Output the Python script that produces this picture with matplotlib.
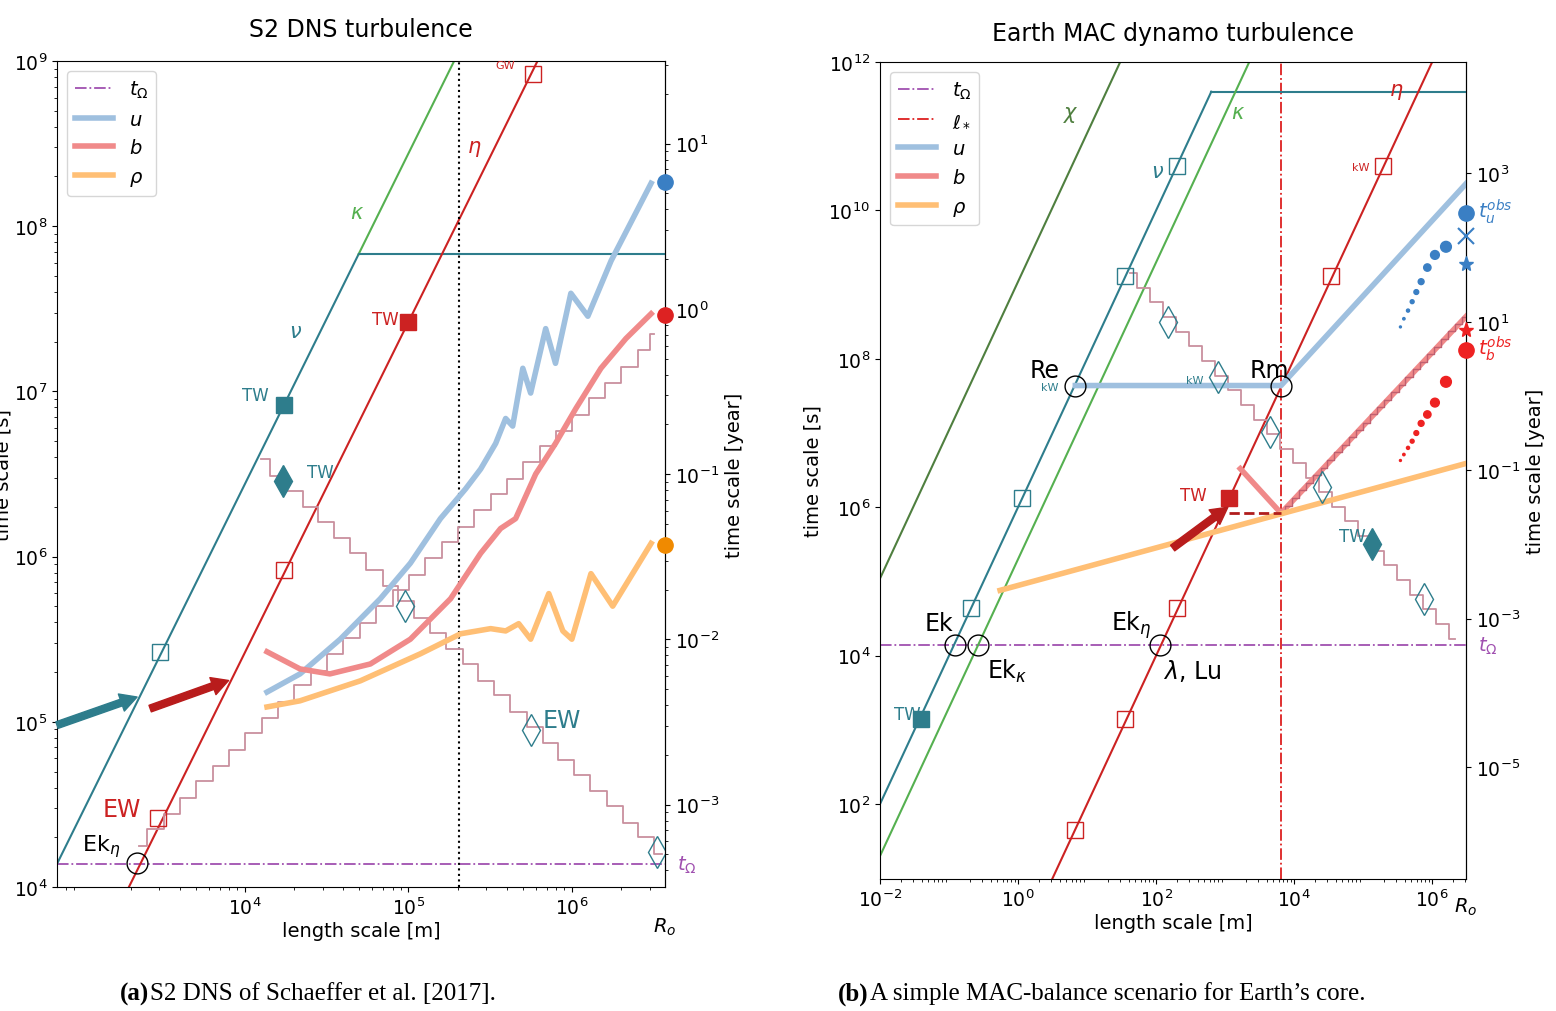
import numpy as np
import matplotlib.pyplot as plt
from matplotlib.lines import Line2D

YEAR = 3.156e7
T_OMEGA = 1.37e4

TEAL = '#2e7d8c'
DGREEN = '#4f7f3f'
GREEN = '#55b050'
RED = '#cc2222'
LBLUE = '#9fc0df'
PINK = '#f08a8a'
ORANGE = '#ffbf75'
PURPLE = '#a050b0'
STAIR = '#c9909e'
BLUE = '#3a7fc4'

# ---------- left panel data (log10 values) ----------
L_nu = 1.56          # log10 nu  [m2/s]
L_eta = 2.58         # log10 eta
L_tmax = 7.83        # saturation time of nu line
L_dotted = 2.05e5

u_x = [4.135, 4.337, 4.583, 4.828, 5.012, 5.196, 5.35, 5.442, 5.534, 5.595, 5.638, 5.70, 5.748,
       5.84, 5.90, 5.994, 6.098, 6.24, 6.36, 6.485]
u_y = [5.18, 5.29, 5.50, 5.745, 5.96, 6.23, 6.41, 6.53, 6.685, 6.836, 6.79, 7.14, 6.99,
       7.38, 7.17, 7.594, 7.455, 7.79, 8.02, 8.26]
b_x = [4.135, 4.337, 4.52, 4.767, 5.012, 5.258, 5.442, 5.564, 5.656, 5.779, 5.90, 6.025, 6.178, 6.331, 6.485]
b_y = [5.424, 5.32, 5.29, 5.35, 5.50, 5.745, 6.02, 6.17, 6.23, 6.50, 6.685, 6.897, 7.14, 7.32, 7.47]
r_x = [4.135, 4.337, 4.706, 5.074, 5.32, 5.503, 5.595, 5.675, 5.748, 5.859, 5.945, 6.0, 6.117, 6.25, 6.485]
r_y = [5.09, 5.127, 5.248, 5.412, 5.533, 5.564, 5.55, 5.594, 5.50, 5.776, 5.55, 5.50, 5.897, 5.70, 6.08]

up_x = [3.35, 3.45, 3.55, 3.65, 3.75, 3.85, 3.95, 4.05, 4.15, 4.25, 4.35, 4.45, 4.55, 4.65, 4.75, 4.85, 4.95,
        5.05, 5.15, 5.25, 5.35, 5.45, 5.55, 5.65, 5.75, 5.85, 5.95, 6.05, 6.15, 6.25, 6.35, 6.45, 6.50]
up_y = [4.25, 4.35, 4.44, 4.54, 4.64, 4.73, 4.83, 4.93, 5.02, 5.12, 5.22, 5.31, 5.41, 5.51, 5.60, 5.70, 5.80,
        5.89, 5.99, 6.09, 6.18, 6.28, 6.38, 6.47, 6.57, 6.67, 6.76, 6.86, 6.96, 7.05, 7.15, 7.25, 7.35]
dn_x = [4.10, 4.20, 4.30, 4.40, 4.49, 4.59, 4.69, 4.79, 4.89, 4.98, 5.08, 5.18, 5.28, 5.38, 5.47, 5.57, 5.67,
        5.77, 5.87, 5.96, 6.06, 6.16, 6.26, 6.36, 6.45, 6.55]
dn_y = [6.59, 6.49, 6.40, 6.30, 6.21, 6.11, 6.02, 5.92, 5.82, 5.73, 5.63, 5.54, 5.44, 5.35, 5.25, 5.16, 5.06,
        4.97, 4.87, 4.77, 4.68, 4.58, 4.49, 4.39, 4.30, 4.20]

sqL_nu = [(3.48, 5.42, False), (4.24, 6.92, True)]
sqL_eta = [(3.47, 4.42, False), (4.24, 5.92, False), (5.0, 7.42, True), (5.76, 8.92, False)]
diaL = [(4.23, 6.46, True), (4.98, 5.70, False), (5.75, 4.95, False), (6.52, 4.21, False)]
endL = [(8.27, BLUE), (7.46, '#dd2222'), (6.07, '#f08a00')]

# ---------- right panel data (log10 values) ----------
R_chi = -9.04
R_nu = -6.0
R_kappa = -5.3
R_eta = 0.0
R_tmax = 11.6
R_lstar = 6.5e3
Ru_x = [0.83, 3.81, 6.49]
Ru_y = [7.64, 7.64, 10.36]
Rb_x = [3.22, 3.81, 6.49]
Rb_y = [6.52, 5.92, 8.57]
Rr_x = [-0.26, 6.49]
Rr_y = [4.88, 6.59]
Rdn_x = [1.62, 1.81, 2.00, 2.19, 2.38, 2.56, 2.75, 2.94, 3.13, 3.32, 3.50, 3.69, 3.88, 4.07, 4.26, 4.44,
         4.63, 4.82, 5.01, 5.20, 5.38, 5.57, 5.76, 5.95, 6.14, 6.33]
Rdn_y = [9.15, 8.95, 8.76, 8.56, 8.36, 8.17, 7.97, 7.77, 7.58, 7.38, 7.18, 6.99, 6.79, 6.59, 6.40, 6.20,
         6.00, 5.81, 5.61, 5.41, 5.22, 5.02, 4.82, 4.63, 4.43, 4.23]
Rbs_x = [3.81, 3.91, 4.02, 4.12, 4.22, 4.33, 4.43, 4.53, 4.63, 4.74, 4.84, 4.94, 5.05, 5.15, 5.25, 5.35,
         5.46, 5.56, 5.66, 5.77, 5.87, 5.97, 6.07, 6.18, 6.28, 6.38, 6.49]
Rbs_y = [5.92, 6.02, 6.12, 6.23, 6.33, 6.43, 6.53, 6.63, 6.74, 6.84, 6.94, 7.04, 7.14, 7.25, 7.35, 7.45,
         7.55, 7.65, 7.76, 7.86, 7.96, 8.06, 8.16, 8.27, 8.37, 8.47, 8.57]
sqR_nu = [(-1.41, 3.14, True), (-0.68, 4.64, False), (0.06, 6.12, False), (1.55, 9.12, False), (2.30, 10.60, False)]
sqR_eta = [(0.83, 1.65, False), (1.55, 3.14, False), (2.30, 4.64, False), (3.06, 6.12, True), (4.54, 9.11, False), (5.29, 10.60, False)]
diaR = [(2.17, 8.50, False), (2.90, 7.76, False), (3.65, 7.02, False), (4.41, 6.27, False), (5.13, 5.51, True), (5.88, 4.76, False)]
circR = [(0.83, 7.64), (3.81, 7.64), (-0.91, 4.14), (-0.58, 4.14), (2.06, 4.14)]
dots_x = [5.54, 5.59, 5.65, 5.71, 5.77, 5.84, 5.93, 6.04, 6.20]
udots_y = [8.43, 8.54, 8.65, 8.77, 8.90, 9.04, 9.23, 9.40, 9.51]
bdots_y = [6.63, 6.71, 6.80, 6.89, 7.00, 7.13, 7.25, 7.41, 7.69]
dots_s = [2, 3, 5, 8, 12, 18, 28, 40, 60]


def P(a):
    return np.power(10.0, np.asarray(a, dtype=float))


plt.rcParams['font.size'] = 14
plt.rcParams['xtick.labelsize'] = 13.5
plt.rcParams['ytick.labelsize'] = 13.5
fig = plt.figure(figsize=(15.56, 10.12), dpi=100)
W, H = 1556, 1012

# ================= left =================
ax = fig.add_axes([57 / W, 1 - 888 / H, 608 / W, 826 / H])
ax.set_xscale('log'); ax.set_yscale('log')
xl0, xl1 = 2.85, 6.57
ax.set_xlim(P(xl0), P(xl1)); ax.set_ylim(1e4, 1e9)

ax.axhline(T_OMEGA, color=PURPLE, ls='-.', lw=1.3)
lk = (L_tmax + L_nu) / 2
xx = np.array([xl0, lk]); ax.plot(P(xx), P(2 * xx - L_nu), color=TEAL, lw=1.5)
xx = np.array([lk, (9 + L_nu) / 2]); ax.plot(P(xx), P(2 * xx - L_nu), color=GREEN, lw=1.5)
ax.plot([P(lk), P(xl1)], [P(L_tmax)] * 2, color=TEAL, lw=1.5)
xx = np.array([(4 + L_eta) / 2, (9 + L_eta) / 2]); ax.plot(P(xx), P(2 * xx - L_eta), color=RED, lw=1.5)
ax.axvline(L_dotted, color='k', ls=':', lw=1.5)

ax.plot(P(up_x), P(up_y), color=STAIR, lw=1.3, drawstyle='steps-mid')
ax.plot(P(dn_x), P(dn_y), color=STAIR, lw=1.3, drawstyle='steps-mid')
ax.plot(P(u_x), P(u_y), color=LBLUE, lw=4)
ax.plot(P(b_x), P(b_y), color=PINK, lw=4)
ax.plot(P(r_x), P(r_y), color=ORANGE, lw=4)

for x, y, f in sqL_nu:
    ax.plot(P(x), P(y), 's', ms=12 if f else 11, mfc=TEAL if f else 'none', mec=TEAL)
for x, y, f in sqL_eta:
    ax.plot(P(x), P(y), 's', ms=12 if f else 11, mfc=RED if f else 'none', mec=RED)
for x, y, f in diaL:
    ax.plot(P(x), P(y), 'd', ms=16, mfc=TEAL if f else 'none', mec=TEAL)
ax.plot(P(3.34), P(4.145), 'o', ms=15, mfc='none', mec='k')
for y, c in endL:
    ax.plot(P(xl1), P(y), 'o', ms=11, color=c, clip_on=False, zorder=5)

ax.annotate('', xy=(P(3.34), P(5.15)), xytext=(P(2.85), P(4.98)),
            arrowprops=dict(color=TEAL, width=5, headwidth=13, headlength=12))
ax.annotate('', xy=(P(3.90), P(5.25)), xytext=(P(3.42), P(5.08)),
            arrowprops=dict(color='#b81c1c', width=5, headwidth=13, headlength=12))

ax.text(P(4.64), P(8.05), r'$\kappa$', color=GREEN, fontsize=15)
ax.text(P(4.27), P(7.33), r'$\nu$', color=TEAL, fontsize=15)
ax.text(P(5.36), P(8.45), r'$\eta$', color=RED, fontsize=15)
ax.text(P(3.98), P(6.95), 'TW', color=TEAL, fontsize=12)
ax.text(P(4.38), P(6.48), 'TW', color=TEAL, fontsize=12)
ax.text(P(4.78), P(7.41), 'TW', color=RED, fontsize=12)
ax.text(P(5.53), P(8.96), 'GW', color=RED, fontsize=8)
ax.text(P(5.82), P(4.97), 'EW', color=TEAL, fontsize=17)
ax.text(P(3.13), P(4.43), 'EW', color=RED, fontsize=17)
ax.text(P(3.0), P(4.22), r'Ek$_\eta$', color='k', fontsize=16)

ax.set_xticks([1e4, 1e5, 1e6])
ax.text(1.0, -0.035, r'$R_o$', transform=ax.transAxes, ha='center', va='top', fontsize=14)
ax.set_xlabel('length scale [m]', labelpad=2)
ax.set_ylabel('time scale [s]', labelpad=1)
ax.set_title('S2 DNS turbulence', fontsize=17, pad=18)
sec = ax.secondary_yaxis('right', functions=(lambda s: s / YEAR, lambda y: y * YEAR))
sec.set_yticks([1e1, 1e0, 1e-1, 1e-2, 1e-3])
sec.set_ylabel('time scale [year]')
ax.text(1.02, (np.log10(T_OMEGA) - 4) / 5, r'$t_\Omega$', color=PURPLE, transform=ax.transAxes,
        va='center', fontsize=14)

hL = [Line2D([], [], color=PURPLE, ls='-.', lw=1.3), Line2D([], [], color=LBLUE, lw=4),
      Line2D([], [], color=PINK, lw=4), Line2D([], [], color=ORANGE, lw=4)]
ax.legend(hL, [r'$t_\Omega$', r'$u$', r'$b$', r'$\rho$'], loc='upper left', fontsize=14)

# ================= right =================
ax2 = fig.add_axes([880 / W, 1 - 880 / H, 586 / W, 817 / H])
ax2.set_xscale('log'); ax2.set_yscale('log')
x0, x1 = -2, 6.49
ax2.set_xlim(P(x0), P(x1)); ax2.set_ylim(P(0.99), 1e12)

ax2.axhline(T_OMEGA, color=PURPLE, ls='-.', lw=1.3)
ax2.axvline(R_lstar, color='#dd2020', ls='-.', lw=1.3)
xx = np.array([x0, (12 + R_chi) / 2]); ax2.plot(P(xx), P(2 * xx - R_chi), color=DGREEN, lw=1.5)
rk = (R_tmax + R_nu) / 2
xx = np.array([x0, rk]); ax2.plot(P(xx), P(2 * xx - R_nu), color=TEAL, lw=1.5)
ax2.plot([P(rk), P(x1)], [P(R_tmax)] * 2, color=TEAL, lw=1.5)
xx = np.array([x0, (12 + R_kappa) / 2]); ax2.plot(P(xx), P(2 * xx - R_kappa), color=GREEN, lw=1.5)
xx = np.array([(0.99 + R_eta) / 2, (12 + R_eta) / 2]); ax2.plot(P(xx), P(2 * xx - R_eta), color=RED, lw=1.5)

ax2.plot(P(Rdn_x), P(Rdn_y), color=STAIR, lw=1.3, drawstyle='steps-mid')
ax2.plot(P(Ru_x), P(Ru_y), color=LBLUE, lw=4)
ax2.plot(P(Rb_x), P(Rb_y), color=PINK, lw=4)
ax2.plot(P(Rbs_x), P(Rbs_y), color='#c06070', lw=1, drawstyle='steps-mid')
ax2.plot(P(Rr_x), P(Rr_y), color=ORANGE, lw=4)
ax2.plot([P(3.06), P(3.81)], [P(5.92)] * 2, color='#b01c1c', ls='--', lw=2)
ax2.annotate('', xy=(P(3.04), P(6.0)), xytext=(P(2.24), P(5.45)),
             arrowprops=dict(color='#b81c1c', width=5, headwidth=13, headlength=12))

for x, y, f in sqR_nu:
    ax2.plot(P(x), P(y), 's', ms=12 if f else 11, mfc=TEAL if f else 'none', mec=TEAL)
for x, y, f in sqR_eta:
    ax2.plot(P(x), P(y), 's', ms=12 if f else 11, mfc=RED if f else 'none', mec=RED)
for x, y, f in diaR:
    ax2.plot(P(x), P(y), 'd', ms=16, mfc=TEAL if f else 'none', mec=TEAL)
for x, y in circR:
    ax2.plot(P(x), P(y), 'o', ms=15, mfc='none', mec='k')
ax2.scatter(P(dots_x), P(udots_y), s=dots_s, color=BLUE, zorder=5)
ax2.scatter(P(dots_x), P(bdots_y), s=dots_s, color='#ee2222', zorder=5)
ax2.plot(P(x1), P(9.97), 'o', ms=11, color=BLUE, clip_on=False, zorder=6)
ax2.plot(P(x1), P(9.66), 'x', ms=12, mew=1.5, color=BLUE, clip_on=False, zorder=6)
ax2.plot(P(x1), P(9.28), '*', ms=11, color=BLUE, clip_on=False, zorder=6)
ax2.plot(P(x1), P(8.39), '*', ms=11, color='#ee2222', clip_on=False, zorder=6)
ax2.plot(P(x1), P(8.12), 'o', ms=11, color='#ee2222', clip_on=False, zorder=6)

ax2.text(P(0.65), P(11.25), r'$\chi$', color=DGREEN, fontsize=15)
ax2.text(P(1.93), P(10.45), r'$\nu$', color=TEAL, fontsize=15)
ax2.text(P(3.08), P(11.25), r'$\kappa$', color=GREEN, fontsize=15)
ax2.text(P(5.38), P(11.55), r'$\eta$', color=RED, fontsize=15)
ax2.text(P(0.17), P(7.76), 'Re', fontsize=17)
ax2.text(P(0.33), P(7.58), 'kW', color=TEAL, fontsize=8)
ax2.text(P(3.36), P(7.76), 'Rm', fontsize=17)
ax2.text(P(2.44), P(7.67), 'kW', color=TEAL, fontsize=8)
ax2.text(P(4.84), P(10.55), 'kW', color=RED, fontsize=8)
ax2.text(P(-1.35), P(4.35), 'Ek', fontsize=17)
ax2.text(P(-0.45), P(3.7), r'Ek$_\kappa$', fontsize=17)
ax2.text(P(1.35), P(4.35), r'Ek$_\eta$', fontsize=17)
ax2.text(P(2.1), P(3.7), r'$\lambda$, Lu', fontsize=17)
ax2.text(P(-1.8), P(3.15), 'TW', color=TEAL, fontsize=12)
ax2.text(P(2.35), P(6.1), 'TW', color=RED, fontsize=12)
ax2.text(P(4.65), P(5.55), 'TW', color=TEAL, fontsize=12)

ax2.set_xticks(P([-2, 0, 2, 4, 6]))
ax2.text(1.0, -0.02, r'$R_o$', transform=ax2.transAxes, ha='center', va='top', fontsize=14)
ax2.set_xlabel('length scale [m]', labelpad=2)
ax2.set_ylabel('time scale [s]')
ax2.set_title('Earth MAC dynamo turbulence', fontsize=17, pad=16)
sec2 = ax2.secondary_yaxis('right', functions=(lambda s: s / YEAR, lambda y: y * YEAR))
sec2.set_yticks([1e3, 1e1, 1e-1, 1e-3, 1e-5])
sec2.set_ylabel('time scale [year]')
yr = lambda v: (v - 0.99) / (12 - 0.99)
ax2.text(1.02, yr(np.log10(T_OMEGA)), r'$t_\Omega$', color=PURPLE, transform=ax2.transAxes, va='center', fontsize=14)
ax2.text(1.02, yr(10.0), r'$t_u^{obs}$', color=BLUE, transform=ax2.transAxes, va='center', fontsize=14)
ax2.text(1.02, yr(8.15), r'$t_b^{obs}$', color='#ee2222', transform=ax2.transAxes, va='center', fontsize=14)

hR = [Line2D([], [], color=PURPLE, ls='-.', lw=1.3), Line2D([], [], color='#dd2020', ls='-.', lw=1.3),
      Line2D([], [], color=LBLUE, lw=4), Line2D([], [], color=PINK, lw=4), Line2D([], [], color=ORANGE, lw=4)]
ax2.legend(hR, [r'$t_\Omega$', r'$\ell_*$', r'$u$', r'$b$', r'$\rho$'], loc='upper left', fontsize=14)

# captions
cy = 1 - 994 / H
fig.text(120 / W, cy, '(a)', family='Liberation Serif', weight='bold', fontsize=18, va='center')
fig.text(150 / W, cy, 'S2 DNS of Schaeffer et al. [2017].', family='Liberation Serif', fontsize=18, va='center')
fig.text(838 / W, cy, '(b)', family='Liberation Serif', weight='bold', fontsize=18, va='center')
fig.text(870 / W, cy, "A simple MAC-balance scenario for Earth’s core.", family='Liberation Serif',
         fontsize=18, va='center')

fig.savefig('out.png', dpi=100)
